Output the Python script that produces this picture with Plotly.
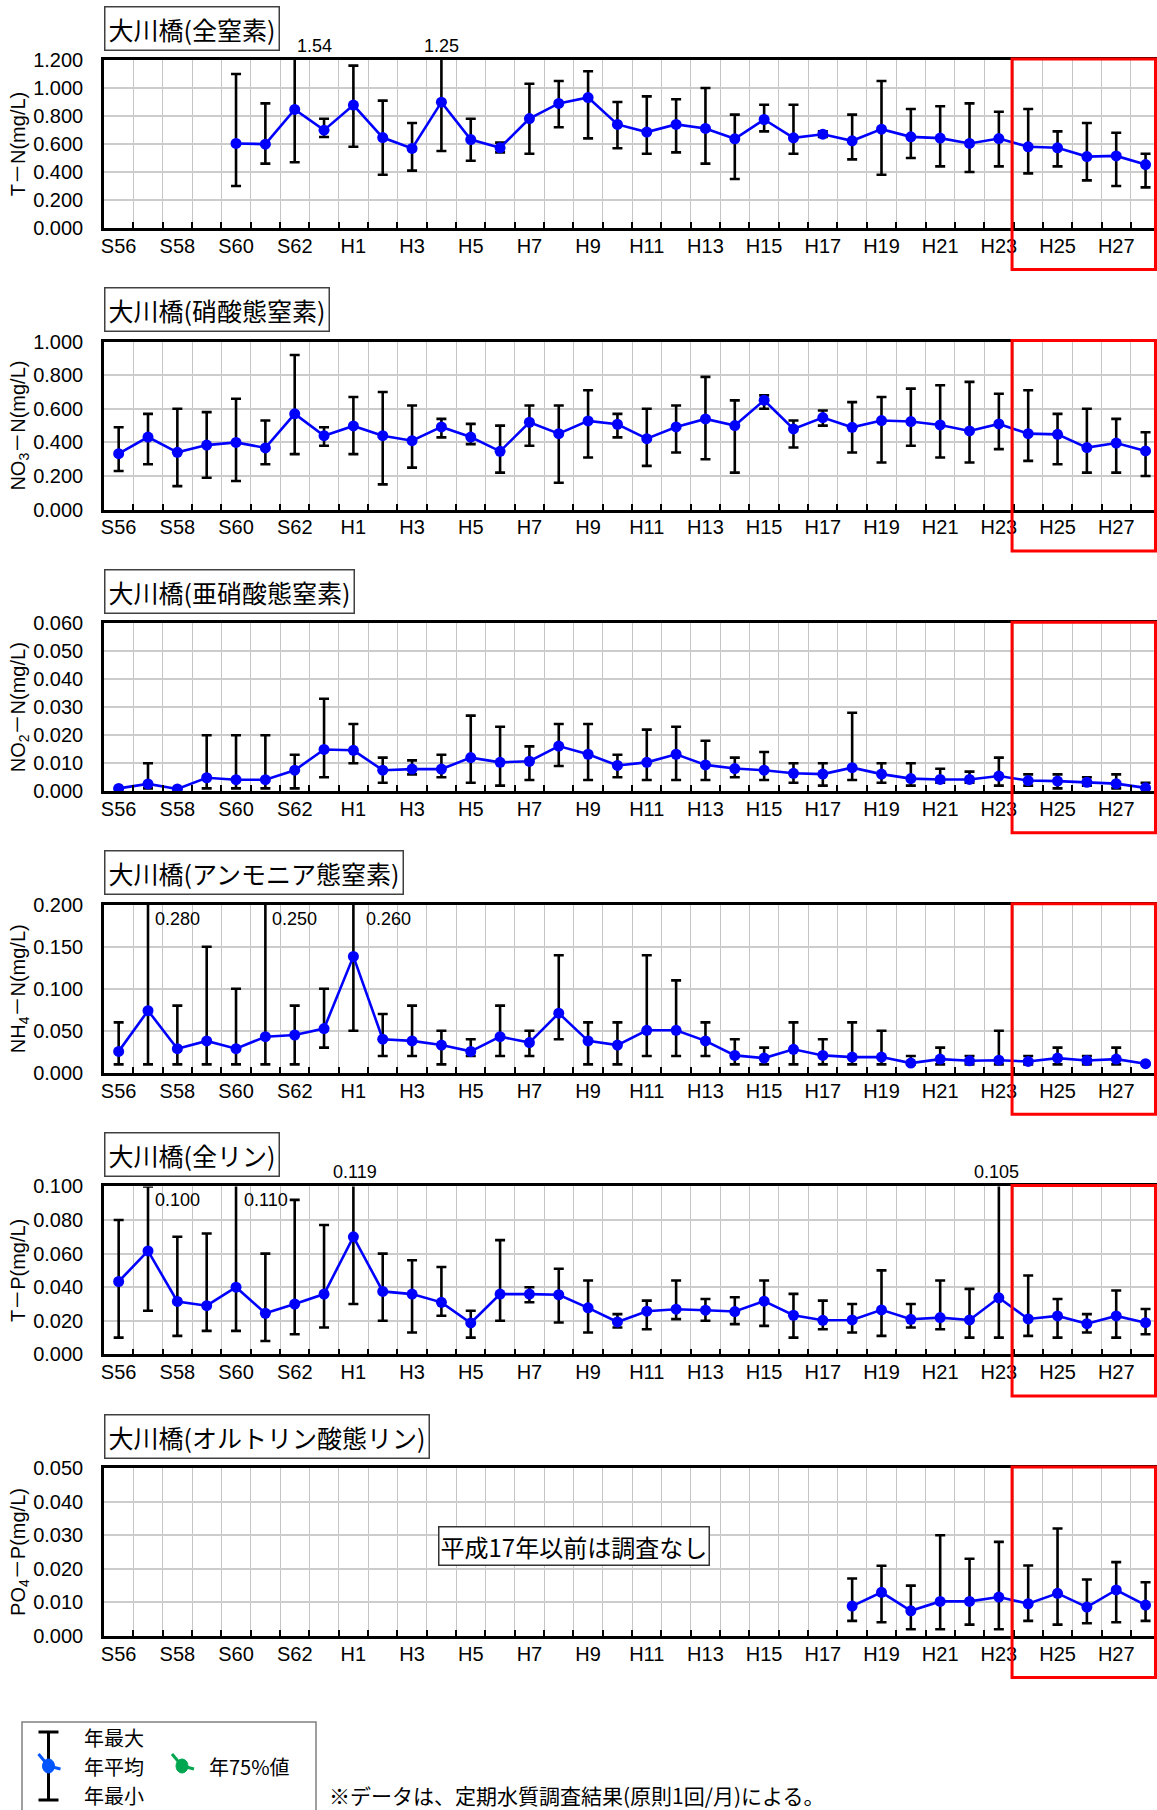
import plotly.graph_objects as go

# ---------------- data ----------------
YEARS = ["S56", "S57", "S58", "S59", "S60", "S61", "S62", "S63",
         "H1", "H2", "H3", "H4", "H5", "H6", "H7", "H8", "H9", "H10",
         "H11", "H12", "H13", "H14", "H15", "H16", "H17", "H18", "H19", "H20",
         "H21", "H22", "H23", "H24", "H25", "H26", "H27", "H28"]

TN_MEAN = [None, None, None, None, 0.604, 0.599, 0.847, 0.699,
           0.878, 0.646, 0.568, 0.899, 0.632, 0.573, 0.782, 0.890, 0.932, 0.740,
           0.685, 0.740, 0.711, 0.637, 0.775, 0.644, 0.670, 0.623, 0.706, 0.651,
           0.642, 0.604, 0.639, 0.580, 0.573, 0.510, 0.515, 0.453]
TN_MAX = [None, None, None, None, 1.10, 0.89, 1.54, 0.78,
          1.16, 0.91, 0.75, 1.25, 0.78, 0.61, 1.03, 1.05, 1.12, 0.90,
          0.94, 0.92, 1.00, 0.81, 0.88, 0.88, 0.69, 0.81, 1.05, 0.85,
          0.87, 0.89, 0.83, 0.85, 0.69, 0.75, 0.68, 0.53]
TN_MIN = [None, None, None, None, 0.30, 0.46, 0.47, 0.65,
          0.58, 0.38, 0.41, 0.55, 0.48, 0.54, 0.53, 0.72, 0.64, 0.57,
          0.53, 0.54, 0.46, 0.35, 0.69, 0.53, 0.65, 0.49, 0.38, 0.50,
          0.44, 0.40, 0.44, 0.39, 0.44, 0.34, 0.30, 0.29]

NO3_MEAN = [0.333, 0.432, 0.341, 0.384, 0.400, 0.367, 0.570, 0.440,
            0.498, 0.440, 0.410, 0.492, 0.432, 0.347, 0.520, 0.452, 0.528, 0.508,
            0.422, 0.492, 0.540, 0.500, 0.651, 0.480, 0.548, 0.490, 0.530, 0.524,
            0.504, 0.468, 0.510, 0.452, 0.448, 0.369, 0.396, 0.349]
NO3_MAX = [0.49, 0.57, 0.60, 0.58, 0.66, 0.53, 0.92, 0.49,
           0.67, 0.70, 0.62, 0.54, 0.51, 0.50, 0.62, 0.62, 0.71, 0.57,
           0.60, 0.62, 0.79, 0.65, 0.68, 0.53, 0.59, 0.64, 0.67, 0.72,
           0.74, 0.76, 0.69, 0.71, 0.57, 0.60, 0.54, 0.46]
NO3_MIN = [0.23, 0.27, 0.14, 0.19, 0.17, 0.27, 0.33, 0.38,
           0.33, 0.15, 0.25, 0.43, 0.39, 0.22, 0.38, 0.16, 0.31, 0.43,
           0.26, 0.34, 0.30, 0.22, 0.60, 0.37, 0.50, 0.34, 0.28, 0.38,
           0.31, 0.28, 0.36, 0.29, 0.27, 0.22, 0.22, 0.20]

NO2_MEAN = [0.0010, 0.0026, 0.0008, 0.0048, 0.0041, 0.0041, 0.0075, 0.0149,
            0.0146, 0.0075, 0.0079, 0.0079, 0.0120, 0.0103, 0.0107, 0.0161, 0.0132, 0.0092,
            0.0103, 0.0132, 0.0094, 0.0081, 0.0075, 0.0064, 0.0061, 0.0084, 0.0061, 0.0045,
            0.0042, 0.0042, 0.0054, 0.0038, 0.0036, 0.0032, 0.0027, 0.0012]
NO2_MAX = [0.001, 0.010, 0.0008, 0.020, 0.020, 0.020, 0.013, 0.033,
           0.024, 0.012, 0.011, 0.013, 0.027, 0.023, 0.016, 0.024, 0.024, 0.013,
           0.022, 0.023, 0.018, 0.012, 0.014, 0.010, 0.010, 0.028, 0.010, 0.010,
           0.008, 0.007, 0.012, 0.006, 0.006, 0.005, 0.006, 0.003]
NO2_MIN = [0.001, 0.001, 0.0008, 0.001, 0.001, 0.001, 0.001, 0.005,
           0.010, 0.003, 0.006, 0.005, 0.003, 0.002, 0.004, 0.009, 0.004, 0.005,
           0.004, 0.004, 0.004, 0.005, 0.004, 0.003, 0.002, 0.004, 0.003, 0.002,
           0.003, 0.003, 0.002, 0.002, 0.001, 0.002, 0.001, 0.001]

NH4_MEAN = [0.0255, 0.074, 0.0287, 0.038, 0.0287, 0.043, 0.045, 0.0526,
            0.1386, 0.040, 0.038, 0.033, 0.0255, 0.043, 0.036, 0.071, 0.038, 0.033,
            0.0506, 0.0506, 0.038, 0.0207, 0.0175, 0.028, 0.0207, 0.0187, 0.0187, 0.0116,
            0.0163, 0.0143, 0.015, 0.0135, 0.0175, 0.0147, 0.0163, 0.0108]
NH4_MAX = [0.060, 0.280, 0.080, 0.150, 0.100, 0.250, 0.080, 0.100,
           0.260, 0.070, 0.080, 0.050, 0.040, 0.080, 0.050, 0.140, 0.060, 0.060,
           0.140, 0.110, 0.060, 0.040, 0.030, 0.060, 0.040, 0.060, 0.050, 0.020,
           0.030, 0.020, 0.050, 0.020, 0.030, 0.020, 0.030, 0.011]
NH4_MIN = [0.010, 0.010, 0.010, 0.010, 0.010, 0.010, 0.010, 0.030,
           0.050, 0.020, 0.020, 0.010, 0.020, 0.020, 0.020, 0.040, 0.010, 0.010,
           0.020, 0.020, 0.020, 0.010, 0.010, 0.010, 0.010, 0.010, 0.010, 0.010,
           0.010, 0.010, 0.010, 0.010, 0.010, 0.010, 0.010, 0.010]

TP_MEAN = [0.0434, 0.0616, 0.0315, 0.029, 0.040, 0.0245, 0.030, 0.0359,
           0.070, 0.0375, 0.0359, 0.031, 0.0187, 0.0359, 0.0359, 0.0355, 0.0277, 0.0193,
           0.0257, 0.0269, 0.0263, 0.0255, 0.0317, 0.0233, 0.0203, 0.0205, 0.0265, 0.0209,
           0.0219, 0.0205, 0.0337, 0.0211, 0.0229, 0.0183, 0.0229, 0.0189]
TP_MAX = [0.080, 0.100, 0.070, 0.072, 0.110, 0.060, 0.092, 0.077,
          0.119, 0.060, 0.056, 0.052, 0.026, 0.068, 0.040, 0.051, 0.044, 0.024,
          0.032, 0.044, 0.033, 0.034, 0.044, 0.036, 0.032, 0.030, 0.050, 0.030,
          0.044, 0.039, 0.105, 0.047, 0.033, 0.024, 0.038, 0.027]
TP_MIN = [0.010, 0.026, 0.011, 0.014, 0.014, 0.008, 0.012, 0.016,
          0.030, 0.020, 0.013, 0.023, 0.010, 0.020, 0.031, 0.019, 0.013, 0.016,
          0.015, 0.021, 0.020, 0.018, 0.017, 0.010, 0.015, 0.013, 0.011, 0.016,
          0.015, 0.010, 0.010, 0.011, 0.010, 0.013, 0.010, 0.012]

PO4_MEAN = [None] * 25 + [0.0089, 0.0130, 0.0075, 0.0103, 0.0103, 0.0116,
                          0.0096, 0.0127, 0.0086, 0.0137, 0.0092]
PO4_MAX = [None] * 25 + [0.0171, 0.0209, 0.0150, 0.0300, 0.0230, 0.0280,
                         0.0210, 0.0320, 0.0168, 0.0220, 0.0160]
PO4_MIN = [None] * 25 + [0.0045, 0.0041, 0.0020, 0.0020, 0.0034, 0.0020,
                         0.0045, 0.0034, 0.0038, 0.0041, 0.0045]

PANELS = [
    dict(title="大川橋(全窒素)", ytitle="T－N(mg/L)", ymax=1.2, dtick=0.2, fmt=".2f",
         mean=TN_MEAN, mx=TN_MAX, mn=TN_MIN),
    dict(title="大川橋(硝酸態窒素)", ytitle="NO<sub>3</sub>－N(mg/L)", ymax=1.0, dtick=0.2, fmt=".3f",
         mean=NO3_MEAN, mx=NO3_MAX, mn=NO3_MIN),
    dict(title="大川橋(亜硝酸態窒素)", ytitle="NO<sub>2</sub>－N(mg/L)", ymax=0.06, dtick=0.01, fmt=".3f",
         mean=NO2_MEAN, mx=NO2_MAX, mn=NO2_MIN),
    dict(title="大川橋(アンモニア態窒素)", ytitle="NH<sub>4</sub>－N(mg/L)", ymax=0.2, dtick=0.05, fmt=".3f",
         mean=NH4_MEAN, mx=NH4_MAX, mn=NH4_MIN),
    dict(title="大川橋(全リン)", ytitle="T－P(mg/L)", ymax=0.1, dtick=0.02, fmt=".3f",
         mean=TP_MEAN, mx=TP_MAX, mn=TP_MIN),
    dict(title="大川橋(オルトリン酸態リン)", ytitle="PO<sub>4</sub>－P(mg/L)", ymax=0.05, dtick=0.01, fmt=".3f",
         mean=PO4_MEAN, mx=PO4_MAX, mn=PO4_MIN),
]

# labels for maxima beyond the axis top: (panel index, year, placement, xshift)
OFFSCALE_LABELS = [
    (0, "S62", "above", 20), (0, "H4", "above", 0),
    (3, "S57", "inside", 5), (3, "S61", "inside", 5), (3, "H1", "inside", 11),
    (4, "S57", "inside", 5), (4, "S60", "inside", 6), (4, "H1", "above", 2),
    (4, "H23", "above", -2),
]

# ---------------- layout constants (pixels) ----------------
W, H = 1157, 1810
PLOT_LEFT = 104
PANEL_TOP0 = 60
PANEL_STEP = 281.6
PANEL_H = 168
X_RANGE = [-0.5, 35.39]
NUM_FONT = "Liberation Sans, Arial, Noto Sans CJK JP, sans-serif"
JP_FONT = "Noto Sans CJK JP, sans-serif"
BLUE = "#0000ff"


def fx(px):
    return px / W


def fy(py):
    return 1 - py / H


# every category gets a boundary grid line; only every other one is labelled
TICK_TEXT = [y if i % 2 == 0 else " " for i, y in enumerate(YEARS)]

fig = go.Figure()
shapes = []
annotations = []

for i, p in enumerate(PANELS):
    n = i + 1
    sfx = "" if n == 1 else str(n)
    xa, ya = "x" + sfx, "y" + sfx
    top = PANEL_TOP0 + i * PANEL_STEP
    plus = [None if m is None else a - m for m, a in zip(p["mean"], p["mx"])]
    minus = [None if m is None else m - b for m, b in zip(p["mean"], p["mn"])]
    fig.add_trace(go.Scatter(
        x=YEARS, y=p["mean"], mode="lines+markers", xaxis=xa, yaxis=ya,
        line=dict(color=BLUE, width=2.6), marker=dict(size=11, color=BLUE),
        error_y=dict(type="data", symmetric=False, array=plus, arrayminus=minus,
                     color="black", thickness=2.6, width=5),
        showlegend=False, hoverinfo="skip", cliponaxis=True))

    fig.update_layout(**{
        "xaxis" + sfx: dict(
            type="category", categoryorder="array", categoryarray=YEARS,
            range=X_RANGE, domain=[fx(PLOT_LEFT), 1], anchor=ya,
            tickmode="array", tickvals=YEARS, ticktext=TICK_TEXT,
            tickson="boundaries", tickangle=0,
            ticks="inside", ticklen=6, tickwidth=1.5, tickcolor="black",
            showgrid=True, gridcolor="#c4c4c4", gridwidth=1,
            showline=True, linecolor="black", linewidth=2.6, mirror=True,
            tickfont=dict(family=NUM_FONT, size=20, color="black"),
            ticklabelstandoff=-2, automargin=False, fixedrange=True),
        "yaxis" + sfx: dict(
            range=[0, p["ymax"]], tick0=0, dtick=p["dtick"], tickformat=".3f",
            domain=[fy(top + PANEL_H), fy(top)], anchor=xa,
            showgrid=True, gridcolor="#cccccc", gridwidth=1.5, zeroline=False,
            showline=True, linecolor="black", linewidth=2.6, ticks="",
            tickfont=dict(family=NUM_FONT, size=20, color="black"),
            ticklabelstandoff=14, automargin=False,
            title=dict(text=p["ytitle"], font=dict(family=NUM_FONT, size=20, color="black"),
                       standoff=3),
            fixedrange=True),
    })

    # panel title box
    annotations.append(dict(
        text=p["title"], xref="paper", yref="paper", x=fx(PLOT_LEFT), y=fy(top - 32),
        xanchor="left", yanchor="middle", showarrow=False,
        font=dict(family=JP_FONT, size=25, color="black"),
        bordercolor="#404040", borderwidth=1.5, borderpad=3, bgcolor="white"))

    # red highlight box (H24-H28)
    span = X_RANGE[1] - X_RANGE[0]
    x0 = fx(PLOT_LEFT) + (30.45 - X_RANGE[0]) / span * (1 - fx(PLOT_LEFT))
    shapes.append(dict(type="rect", xref="paper", yref="paper",
                       x0=x0, x1=1 - 1.5 / W, y0=fy(top + PANEL_H + 41.5), y1=fy(top - 1),
                       line=dict(color="#ff0000", width=3), fillcolor="rgba(0,0,0,0)"))

# labels for off-scale maxima
for (pi, year, place, xs) in OFFSCALE_LABELS:
    p = PANELS[pi]
    sfx = "" if pi == 0 else str(pi + 1)
    val = p["mx"][YEARS.index(year)]
    txt = format(val, p["fmt"])
    if place == "above":
        annotations.append(dict(text=txt, xref="x" + sfx, yref="y" + sfx + " domain",
                                x=year, y=1, xanchor="center", yanchor="bottom",
                                xshift=xs, yshift=2, showarrow=False,
                                font=dict(family=NUM_FONT, size=18, color="black")))
    else:
        annotations.append(dict(text=txt, xref="x" + sfx, yref="y" + sfx + " domain",
                                x=year, y=1, xanchor="left", yanchor="top",
                                xshift=xs, yshift=-2, showarrow=False,
                                font=dict(family=NUM_FONT, size=18, color="black")))

# note in PO4 panel
annotations.append(dict(text="平成17年以前は調査なし", xref="paper", yref="paper",
                        x=fx(574), y=fy(1546), xanchor="center", yanchor="middle",
                        showarrow=False, font=dict(family=JP_FONT, size=24, color="black"),
                        bordercolor="#333333", borderwidth=1.5, borderpad=1, bgcolor="white"))

# ---------------- custom legend (bottom) ----------------
shapes.append(dict(type="rect", xref="paper", yref="paper", x0=fx(22), x1=fx(316),
                   y0=fy(1815), y1=fy(1722), line=dict(color="#808080", width=1.5)))
# I-beam
shapes.append(dict(type="line", xref="paper", yref="paper", x0=fx(48.5), x1=fx(48.5),
                   y0=fy(1732), y1=fy(1800), line=dict(color="black", width=3)))
for cy in (1732, 1800):
    shapes.append(dict(type="line", xref="paper", yref="paper", x0=fx(38.5), x1=fx(58.5),
                       y0=fy(cy), y1=fy(cy), line=dict(color="black", width=3)))
for cx, col in ((48.5, "#0055ff"), (182, "#00a650")):
    shapes.append(dict(type="path", xref="paper", yref="paper",
                       path=f"M {fx(cx - 10)} {fy(1754)} L {fx(cx)} {fy(1766)} L {fx(cx + 12)} {fy(1769)}",
                       line=dict(color=col, width=3)))
    shapes.append(dict(type="circle", xref="paper", yref="paper", xsizemode="pixel",
                       ysizemode="pixel", xanchor=fx(cx), yanchor=fy(1766),
                       x0=-6, x1=6, y0=-7, y1=7, fillcolor=col, line=dict(color=col, width=1)))
for txt, lx, ly in (("年最大", 82, 1737), ("年平均", 82, 1766), ("年最小", 82, 1795),
                    ("年75%値", 207, 1766)):
    annotations.append(dict(text=txt, xref="paper", yref="paper", x=fx(lx), y=fy(ly),
                            xanchor="left", yanchor="middle", showarrow=False,
                            font=dict(family=JP_FONT, size=20, color="black")))
annotations.append(dict(text="※データは、定期水質調査結果(原則1回/月)による。", xref="paper", yref="paper",
                        x=fx(327), y=fy(1795), xanchor="left", yanchor="middle", showarrow=False,
                        font=dict(family=JP_FONT, size=21, color="black")))

fig.update_layout(
    width=W, height=H, margin=dict(l=0, r=0, t=0, b=0, autoexpand=False),
    paper_bgcolor="white", plot_bgcolor="white",
    shapes=shapes, annotations=annotations, showlegend=False,
    font=dict(family=NUM_FONT, color="black"),
)

fig.write_html("out.html", config={"displayModeBar": False},
               post_script="document.body.style.margin='0px';document.body.style.overflow='hidden';")
